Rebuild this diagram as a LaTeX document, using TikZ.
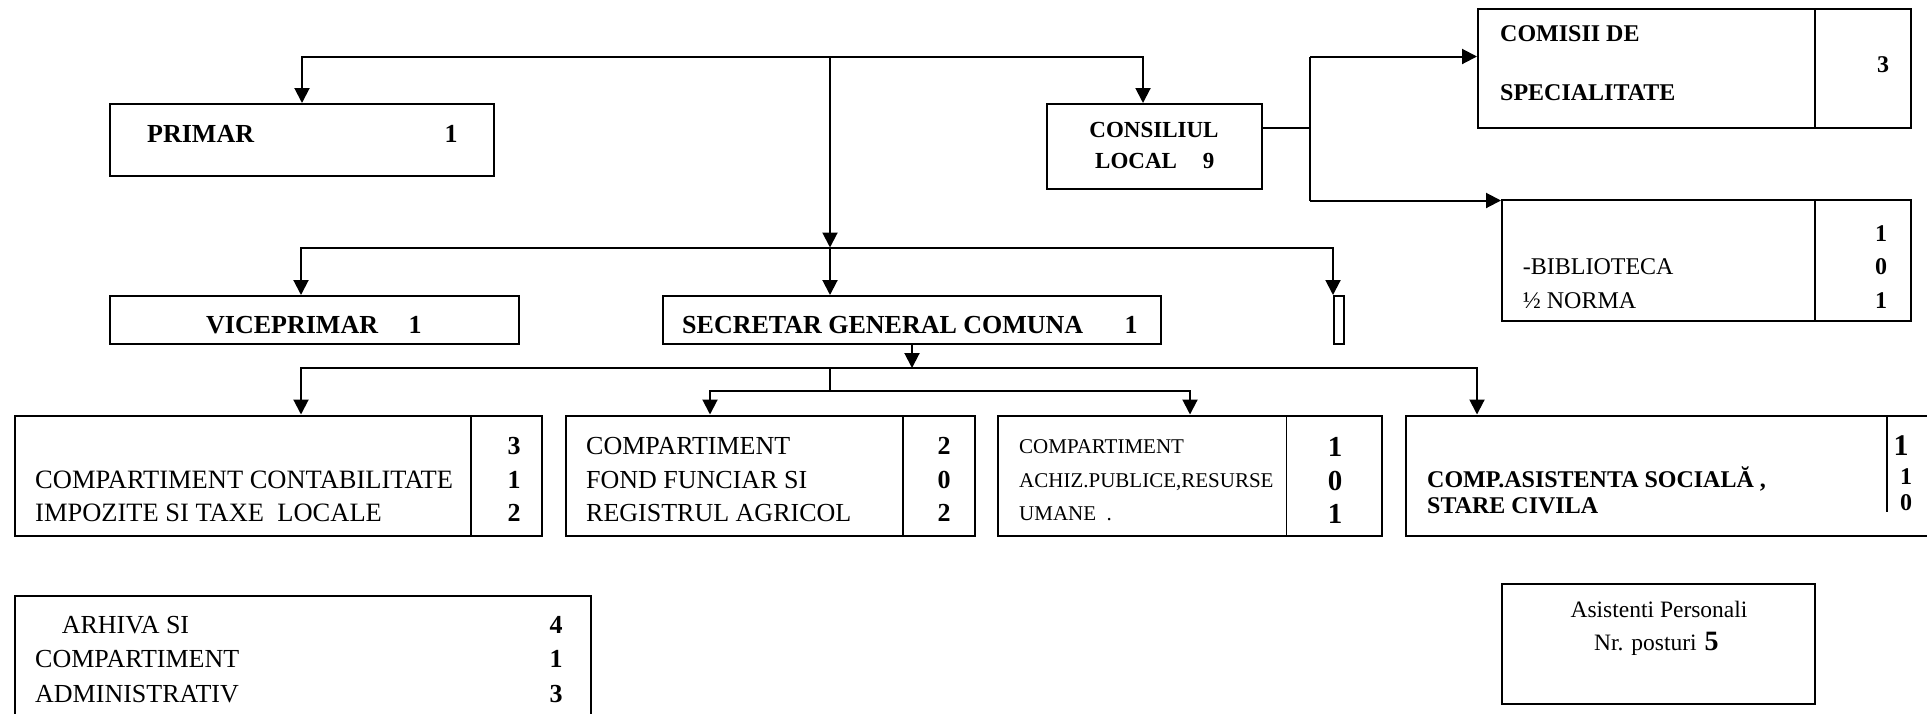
\documentclass[tikz,border=0pt]{standalone}
\usepackage{fontspec}
\setmainfont{Liberation Serif}
\usetikzlibrary{arrows.meta}
\newcommand\myfs[1]{\fontsize{#1}{#1}\selectfont}
\begin{document}
\begin{tikzpicture}[x=1pt,y=-1pt,
  box/.style={draw, line width=2pt, inner sep=0pt},
  arr/.style={line width=2pt, -{Triangle[length=15pt,width=15pt]}},
  ln/.style={line width=2pt},
  div/.style={line width=1.6pt},
  tl/.style={inner sep=0pt, anchor=base west},
  tn/.style={inner sep=0pt, anchor=base, font=\bfseries\myfs{26}},
]
\useasboundingbox (0,0) rectangle (1927,713);

% boxes
\node[box, minimum width=384pt, minimum height=72pt] (primar) at (302,140) {};
\node[box, minimum width=215pt, minimum height=85pt] (consiliul) at (1154.5,146.5) {};
\node[box, minimum width=433pt, minimum height=119.5pt] (comisii) at (1694.5,68.25) {};
\node[box, minimum width=409pt, minimum height=121pt] (biblio) at (1706.5,260.5) {};
\node[box, minimum width=409pt, minimum height=48pt] (vice) at (314.5,320) {};
\node[box, minimum width=498pt, minimum height=48pt] (secretar) at (912,320) {};
\node[box, minimum width=10pt, minimum height=48pt] (small) at (1339,320) {};
\node[box, minimum width=527.5pt, minimum height=120.5pt] (box1) at (278.25,475.75) {};
\node[box, minimum width=408.5pt, minimum height=120.5pt] (box2) at (770.25,475.75) {};
\node[box, minimum width=384pt, minimum height=120.5pt] (box3) at (1190,475.75) {};
\node[box, minimum width=539pt, minimum height=120.5pt] (box4) at (1675.5,475.75) {};
\node[box, minimum width=576.5pt, minimum height=144pt] (arhiva) at (302.75,668) {};
\node[box, minimum width=313pt, minimum height=120pt] (asist) at (1658.5,644) {};

% dividers
\draw[div] (1815,8.5) -- (1815,128);
\draw[div] (1815,200) -- (1815,321);
\draw[div] (471,415.5) -- (471,536);
\draw[div] (903,415.5) -- (903,536);
\draw[div] (1286.5,415.5) -- (1286.5,536);
\draw[div] (1887,415.5) -- (1887,512);

% junctions
\coordinate (j0) at (830,56.5);
\coordinate (j1) at (830,247.5);
\coordinate (j2) at (830,368);
\coordinate (j3) at (830,391);
\coordinate (k0) at (1310,128);
\coordinate (k1) at (1310,56.5);
\coordinate (k2) at (1310,200.5);

% connectors
\draw[arr] (j0) -| (primar.north);
\draw[arr] (j0) -| ([xshift=-11.5pt]consiliul.north);
\draw[arr] (j0) -- (j1);
\draw[arr] (j1) -- (j1 |- secretar.north);
\draw[arr] (j1) -| ([xshift=-13.5pt]vice.north);
\draw[arr] (j1) -| (small.north west);
\draw[arr] (secretar.south) -- (secretar.south |- j2);
\draw[arr] (j2) -| ([xshift=22.75pt]box1.north);
\draw[arr] (j2) -| ([xshift=72pt]box4.north west);
\draw[ln] (j2) -- (j3);
\draw[arr] (j3) -| ([xshift=-60.25pt]box2.north);
\draw[arr] (j3) -| (box3.north);
\draw[ln] ([yshift=18.5pt]consiliul.east) -- (k0);
\draw[ln] (k1) -- (k2);
\draw[arr] (k1) -- (k1 -| comisii.west);
\draw[arr] (k2) -- (k2 -| biblio.west);

% texts
\node[tl, font=\bfseries\myfs{26}] (tprimar) at (147,142) {PRIMAR};
\node[tn] (nprimar) at (451,142) {1};
\node[inner sep=0pt, anchor=base, font=\bfseries\myfs{23}] (tcons1) at (1154,137) {CONSILIUL};
\node[inner sep=0pt, anchor=base west, font=\bfseries\myfs{23}] (tcons2) at (1095,168) {LOCAL\hspace{26pt}9};
\node[tl, font=\bfseries\myfs{24}] (tcom1) at (1500,41.5) {COMISII DE};
\node[tl, font=\bfseries\myfs{24}] (tcom2) at (1500,100.5) {SPECIALITATE};
\node[tn, font=\bfseries\myfs{24}] (ncom) at (1883,72) {3};
\node[tn, font=\bfseries\myfs{24}] (nbib1) at (1881,241) {1};
\node[tl, font=\myfs{24}] (tbib1) at (1522.7,274.5) {-BIBLIOTECA};
\node[tn, font=\bfseries\myfs{24}] (nbib2) at (1881,274.5) {0};
\node[tl, font=\myfs{24}] (tbib2) at (1522.7,308) {½ NORMA};
\node[tn, font=\bfseries\myfs{24}] (nbib3) at (1881,308) {1};
\node[tl, font=\bfseries\myfs{26}] (tvice) at (206,333.6) {VICEPRIMAR};
\node[tn] (nvice) at (415,333.6) {1};
\node[tl, font=\bfseries\myfs{26}] (tsec) at (682,333.6) {SECRETAR GENERAL COMUNA};
\node[tn] (nsec) at (1131,333.6) {1};

\node[tn] (n11) at (514,454.3) {3};
\node[tl, font=\myfs{26.5}] (t12) at (35,488.6) {COMPARTIMENT CONTABILITATE};
\node[tn] (n12) at (514,488.6) {1};
\node[tl, font=\myfs{26.5}] (t13) at (35,521.6) {IMPOZITE SI TAXE\ \ LOCALE};
\node[tn] (n13) at (514,521.6) {2};

\node[tl, font=\myfs{26}] (t21) at (586,454.3) {COMPARTIMENT};
\node[tn] (n21) at (944,454.3) {2};
\node[tl, font=\myfs{26}] (t22) at (586,488.6) {FOND FUNCIAR SI};
\node[tn] (n22) at (944,488.6) {0};
\node[tl, font=\myfs{26}] (t23) at (586,521.6) {REGISTRUL AGRICOL};
\node[tn] (n23) at (944,521.6) {2};

\node[tl, font=\myfs{21}] (t31) at (1019,453.7) {COMPARTIMENT};
\node[tn, font=\bfseries\myfs{29}] (n31) at (1335,456) {1};
\node[tl, font=\myfs{21}] (t32) at (1019,487) {ACHIZ.PUBLICE,RESURSE};
\node[tn, font=\bfseries\myfs{29}] (n32) at (1335,490) {0};
\node[tl, font=\myfs{21}] (t33) at (1019,520) {UMANE\ \ .};
\node[tn, font=\bfseries\myfs{29}] (n33) at (1335,523) {1};

\node[tl, font=\bfseries\myfs{24}] (t41) at (1427,487) {COMP.ASISTENTA SOCIALĂ ,};
\node[tl, font=\bfseries\myfs{24}] (t42) at (1427,513) {STARE CIVILA};
\node[tn, font=\bfseries\myfs{30}] (n41) at (1901,455.6) {1};
\node[tn, font=\bfseries\myfs{24}] (n42) at (1906,484.6) {1};
\node[tn, font=\bfseries\myfs{24}] (n43) at (1906,510) {0};

\node[tl, font=\myfs{26}] (ta1) at (61.6,633.6) {ARHIVA SI};
\node[tn] (na1) at (556,633.6) {4};
\node[tl, font=\myfs{26}] (ta2) at (35,667.6) {COMPARTIMENT};
\node[tn] (na2) at (556,667.6) {1};
\node[tl, font=\myfs{26}] (ta3) at (35,702) {ADMINISTRATIV};
\node[tn] (na3) at (556,702) {3};

\node[inner sep=0pt, anchor=base, font=\myfs{23.5}] (tas1) at (1659,617.8) {Asistenti Personali};
\node[tl, font=\myfs{23.5}] (tas2) at (1594,650) {Nr. posturi\hspace{8pt}{\bfseries\myfs{28}5}};
\end{tikzpicture}
\end{document}
